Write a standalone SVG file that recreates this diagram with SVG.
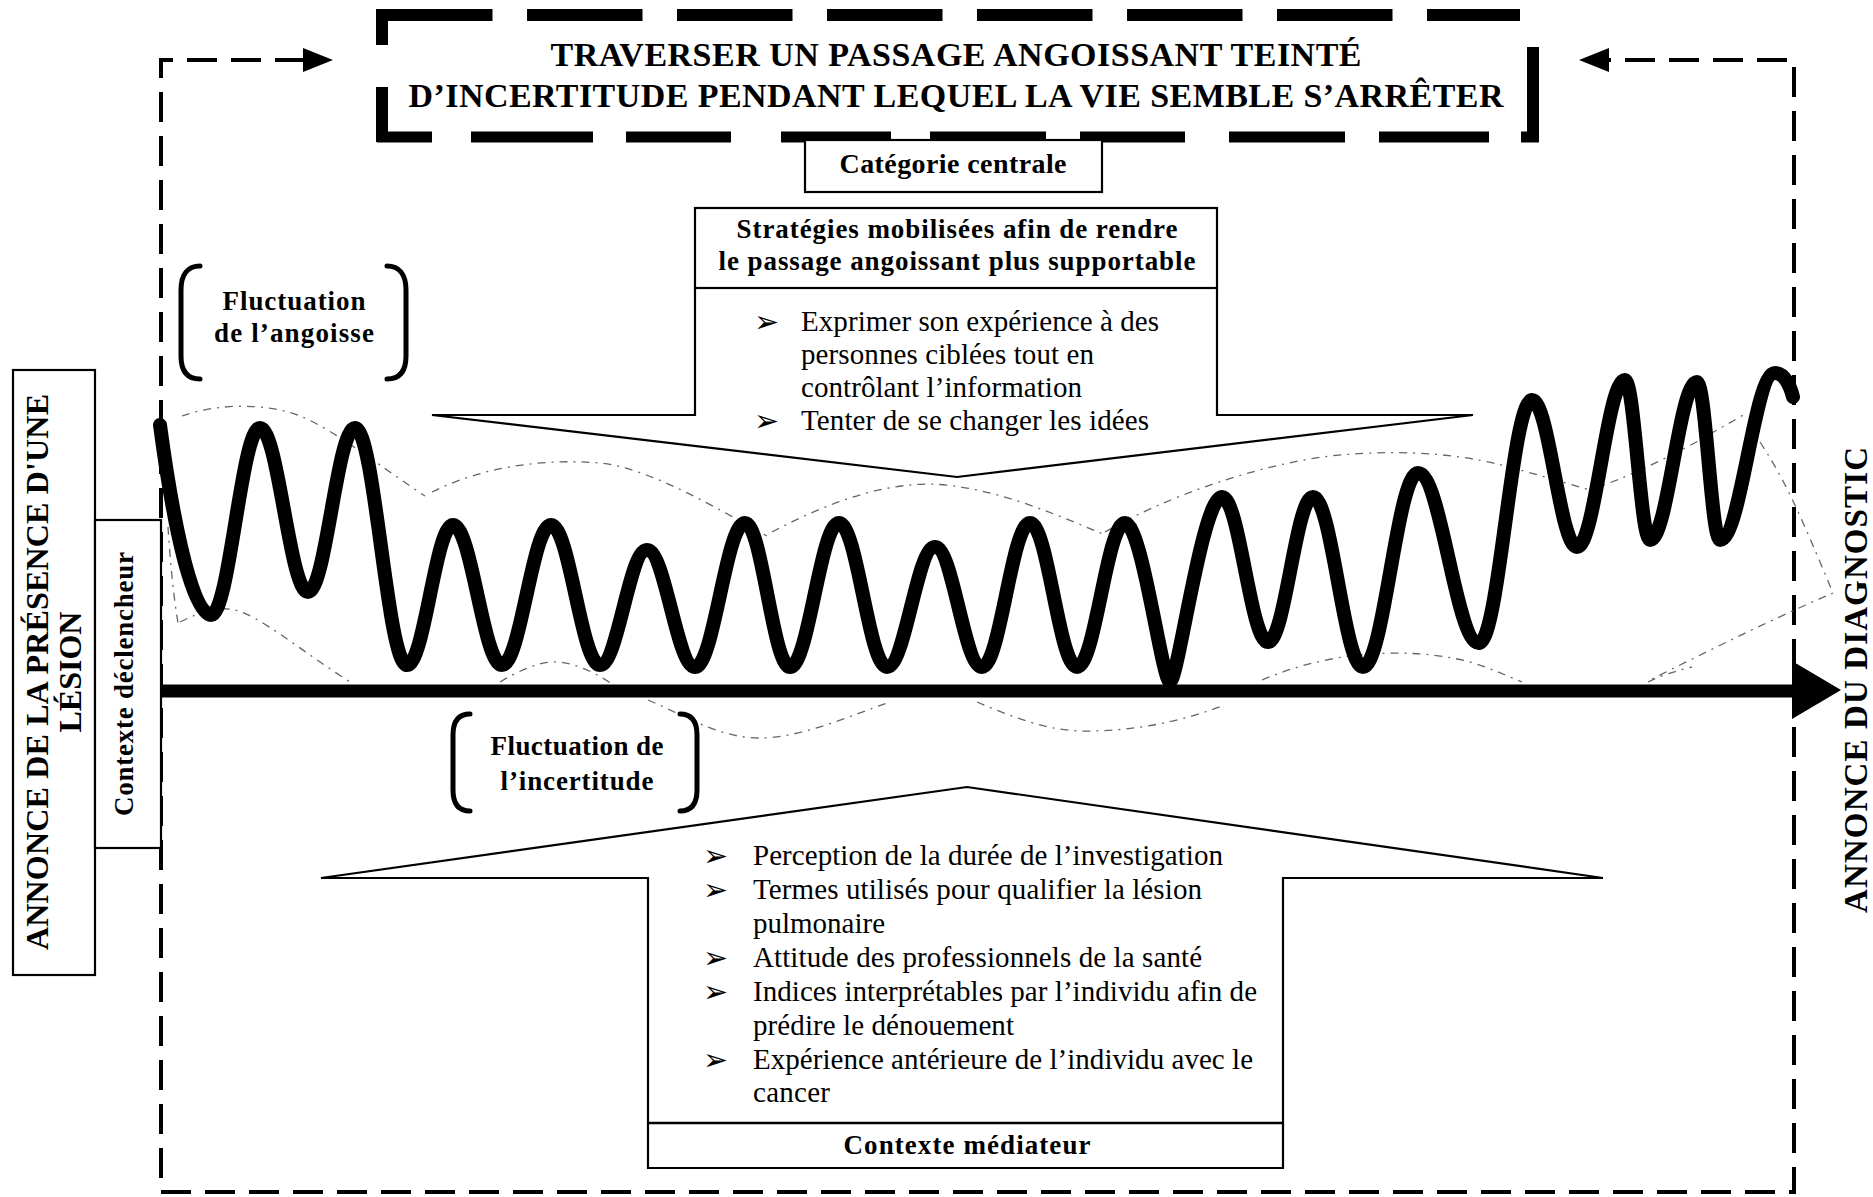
<svg xmlns="http://www.w3.org/2000/svg" width="1873" height="1197" viewBox="0 0 1873 1197">
<defs>
<style>
.t { font-family: "Liberation Serif", "Times New Roman", serif; fill: #000; }
.b { font-weight: bold; }
.box { fill: #fff; stroke: #000; stroke-width: 2.2; }
.env { fill: none; stroke: #666; stroke-width: 1.3; stroke-dasharray: 8 6 2 6; }
.frame { fill: none; stroke: #000; stroke-width: 4; stroke-dasharray: 30 14; }
.brk { fill: none; stroke: #000; stroke-width: 5; stroke-linecap: round; }
.bul { font-family: "DejaVu Sans", sans-serif; font-size: 30px; fill: #000; }
.it { font-size: 29px; }
</style>
</defs>
<rect width="1873" height="1197" fill="#fff"/>

<!-- connectors / frame -->
<g id="connectors">
  <path class="frame" d="M305,60 H161 V1192 H1794 V60 H1607"/>
  <polygon points="333,60 303,48 303,72" fill="#000"/>
  <polygon points="1579,60 1609,48 1609,72" fill="#000"/>
  <!-- envelope lines -->
  <path class="env" d="M182,416 C215,404 265,402 300,416 C335,430 385,470 425,496"/>
  <path class="env" d="M432,492 C480,468 540,458 600,463 C650,468 720,510 767,536"/>
  <path class="env" d="M772,532 C810,512 870,484 930,484 C990,486 1050,512 1103,534"/>
  <path class="env" d="M1105,532 C1160,500 1250,466 1330,456 C1410,448 1470,455 1520,470 C1550,478 1575,486 1590,490"/>
  <path class="env" d="M1590,490 C1620,480 1660,462 1700,440 C1720,428 1735,420 1745,414"/>
  <path class="env" d="M1760,442 C1785,480 1800,515 1820,562 L1833,593 C1770,620 1700,655 1650,680"/>
  <path class="env" d="M168,527 C170,560 174,600 178,623"/>
  <path class="env" d="M180,622 C200,612 218,606 235,610 C260,616 300,650 350,682"/>
  <path class="env" d="M500,682 C520,670 540,661 558,662 C580,664 600,676 612,684"/>
  <path class="env" d="M1262,680 C1290,668 1320,660 1350,656 C1400,650 1440,654 1470,662 C1490,668 1505,675 1522,682"/>
  <path class="env" d="M1648,682 C1660,676 1675,671 1692,667"/>
  <path class="env" d="M648,700 C690,718 720,738 760,738 C800,738 850,716 887,703"/>
  <path class="env" d="M977,702 C1010,716 1045,730 1080,731 C1130,732 1180,722 1222,706"/>
  <!-- main axis -->
  <line x1="157" y1="691" x2="1796" y2="691" stroke="#000" stroke-width="13"/>
  <polygon points="1792,661 1841,690 1792,719" fill="#000"/>
</g>

<!-- wave -->
<g id="wave">
  <path fill="none" stroke="#000" stroke-width="14" stroke-linecap="round" stroke-linejoin="round" d="M160,425 C170,500 190,615 211,615 C229.6,615 241.4,428 260,428 C278.2,428 289.8,592 308,592 C325.9,592 337.1,428 355,428 C374.8,428 387.2,665 407,665 C424.5,665 435.5,525 453,525 C471.6,525 483.4,665 502,665 C520.6,665 532.4,525 551,525 C569.6,525 581.4,665 600,665 C617.9,665 629.1,550 647,550 C665.2,550 676.8,667 695,667 C714,667 726,523 745,523 C762.1,523 772.9,667 790,667 C808.6,667 820.4,523 839,523 C857.2,523 868.8,667 887,667 C905.2,667 916.8,547 935,547 C952.9,547 964.1,667 982,667 C1000.2,667 1011.8,523 1030,523 C1047.9,523 1059.1,667 1077,667 C1095.2,667 1106.8,523 1125,523 C1142.1,523 1162,682 1170,682 C1178,682 1202.2,497 1222,497 C1239.5,497 1250.5,642 1268,642 C1285.1,642 1295.9,497 1313,497 C1332,497 1344,667 1363,667 C1383.9,667 1397.1,473 1418,473 C1441.2,473 1455.8,643 1479,643 C1499.1,643 1511.9,400 1532,400 C1549.1,400 1559.9,547 1577,547 C1595.2,547 1606.8,380 1625,380 C1634.5,380 1640.5,540 1650,540 C1667.9,540 1679.1,382 1697,382 C1705.7,382 1711.3,540 1720,540 C1740.9,540 1754.1,373 1775,373 C1784,373 1790,385 1793,397"/>
</g>

<!-- title -->
<g id="title">
  <g stroke="#000" stroke-width="12" fill="none">
    <line x1="377" y1="15" x2="1520" y2="15" stroke-dasharray="115.5 34.5"/>
    <path d="M382,9 V45 M382,87 V142 M1533,47 V142"/>
    <path stroke-width="11" d="M377,137H432M471,137H593M626,137H731M781,137H891M930,137H1046M1080,137H1185M1229,137H1345M1379,137H1489M1521,137H1539"/>
  </g>
  <text class="t b" x="956" y="66" font-size="34" text-anchor="middle" textLength="811">TRAVERSER UN PASSAGE ANGOISSANT TEINTÉ</text>
  <text class="t b" x="956" y="107" font-size="34" text-anchor="middle" textLength="1095">D’INCERTITUDE PENDANT LEQUEL LA VIE SEMBLE S’ARRÊTER</text>
</g>

<!-- categorie centrale -->
<g id="categorie-centrale">
  <rect class="box" x="805" y="140" width="297" height="52"/>
  <text class="t b" x="953" y="173" font-size="28" text-anchor="middle" textLength="227">Catégorie centrale</text>
</g>

<!-- strategies -->
<g id="strategies">
  <polygon class="box" points="695,288 695,415 432,415 957,477 1473,415 1217,415 1217,288"/>
  <rect class="box" x="695" y="208" width="522" height="80"/>
  <text class="t b" x="957" y="238" font-size="27" text-anchor="middle" textLength="441">Stratégies mobilisées afin de rendre</text>
  <text class="t b" x="957" y="270" font-size="27" text-anchor="middle" textLength="477">le passage angoissant plus supportable</text>
  <text class="bul" x="754" y="332">➢</text>
  <text class="t it" x="801" y="331" textLength="358">Exprimer son expérience à des</text>
  <text class="t it" x="801" y="364" textLength="293">personnes ciblées tout en</text>
  <text class="t it" x="801" y="397" textLength="281">contrôlant l’information</text>
  <text class="bul" x="754" y="431">➢</text>
  <text class="t it" x="801" y="430" textLength="348">Tenter de se changer les idées</text>
</g>

<!-- fluctuation angoisse -->
<g id="fluctuation-angoisse">
  <path class="brk" d="M200,266 C188,266 181,274 181,290 V356 C181,372 188,379 200,379"/>
  <path class="brk" d="M387,266 C399,266 406,274 406,290 V356 C406,372 399,379 387,379"/>
  <text class="t b" x="294" y="310" font-size="27" text-anchor="middle" textLength="143">Fluctuation</text>
  <text class="t b" x="294" y="342" font-size="27" text-anchor="middle" textLength="160">de l’angoisse</text>
</g>

<!-- fluctuation incertitude -->
<g id="fluctuation-incertitude">
  <path class="brk" stroke-width="4.5" d="M470,714 C459,714 453,721 453,735 V790 C453,804 459,811 470,811"/>
  <path class="brk" stroke-width="4.5" d="M680,714 C691,714 697,721 697,735 V790 C697,804 691,811 680,811"/>
  <text class="t b" x="577" y="755" font-size="27" text-anchor="middle" textLength="173">Fluctuation de</text>
  <text class="t b" x="577" y="790" font-size="27" text-anchor="middle" textLength="153">l’incertitude</text>
</g>

<!-- contexte mediateur -->
<g id="contexte-mediateur">
  <polygon class="box" points="648,1168 648,878 321,878 967,787 1603,878 1283,878 1283,1168"/>
  <line x1="648" y1="1123" x2="1283" y2="1123" stroke="#000" stroke-width="2.5"/>
  <text class="bul" x="703" y="866">➢</text>
  <text class="t it" x="753" y="865" textLength="470">Perception de la durée de l’investigation</text>
  <text class="bul" x="703" y="900">➢</text>
  <text class="t it" x="753" y="899" textLength="449">Termes utilisés pour qualifier la lésion</text>
  <text class="t it" x="753" y="933" textLength="132">pulmonaire</text>
  <text class="bul" x="703" y="968">➢</text>
  <text class="t it" x="753" y="967" textLength="449">Attitude des professionnels de la santé</text>
  <text class="bul" x="703" y="1002">➢</text>
  <text class="t it" x="753" y="1001" textLength="504">Indices interprétables par l’individu afin de</text>
  <text class="t it" x="753" y="1035" textLength="261">prédire le dénouement</text>
  <text class="bul" x="703" y="1070">➢</text>
  <text class="t it" x="753" y="1069" textLength="500">Expérience antérieure de l’individu avec le</text>
  <text class="t it" x="753" y="1102" textLength="77">cancer</text>
  <text class="t b" x="967" y="1154" font-size="27" text-anchor="middle" textLength="247">Contexte médiateur</text>
</g>

<!-- annonce lesion -->
<g id="annonce-lesion">
  <rect class="box" x="13" y="370" width="82" height="605" stroke-width="1.8"/>
  <text class="t b" font-size="32" text-anchor="middle" textLength="556" transform="translate(48,672) rotate(-90)">ANNONCE DE LA PRÉSENCE D'UNE</text>
  <text class="t b" font-size="32" text-anchor="middle" transform="translate(81,672) rotate(-90)">LÉSION</text>
</g>

<!-- contexte declencheur -->
<g id="contexte-declencheur">
  <rect class="box" x="95" y="520" width="66" height="328" stroke-width="1.8"/>
  <text class="t b" font-size="27" text-anchor="middle" textLength="264" transform="translate(133,684) rotate(-90)">Contexte déclencheur</text>
</g>

<!-- annonce diagnostic -->
<g id="annonce-diagnostic">
  <text class="t b" font-size="33" text-anchor="middle" textLength="466" transform="translate(1867,680) rotate(-90)">ANNONCE DU DIAGNOSTIC</text>
</g>
</svg>
